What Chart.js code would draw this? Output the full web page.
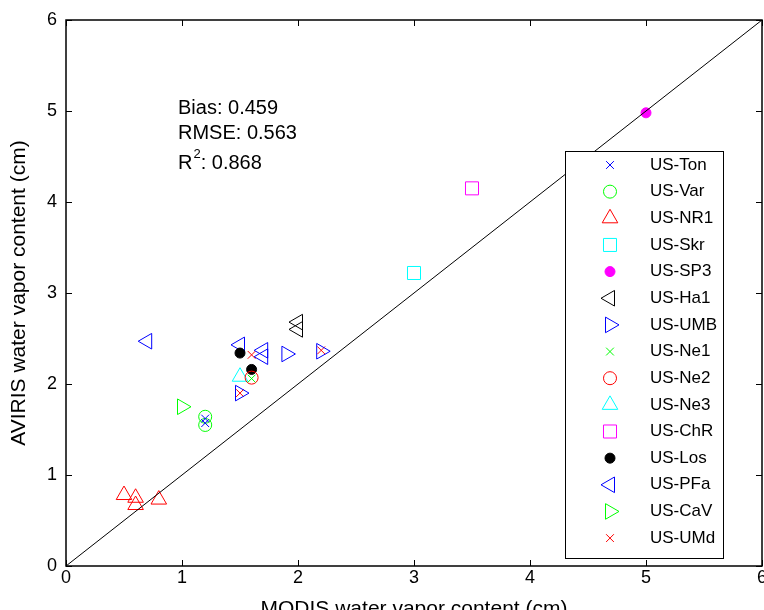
<!DOCTYPE html>
<html>
<head>
<meta charset="utf-8">
<script src="https://cdn.jsdelivr.net/npm/chart.js@4.4.0/dist/chart.umd.min.js"></script>
<style>
  html, body { margin: 0; padding: 0; background: #fff; }
  #wrap { width: 764px; height: 610px; }
</style>
</head>
<body>
<div id="wrap"><canvas id="vaporChart" width="764" height="610"></canvas></div>
<script>
// axis ticks (cm)
const xTicks = [0, 1, 2, 3, 4, 5, 6];
const yTicks = [0, 1, 2, 3, 4, 5, 6];

const siteNames = ['US-Ton', 'US-Var', 'US-NR1', 'US-Skr', 'US-SP3', 'US-Ha1', 'US-UMB', 'US-Ne1',
                   'US-Ne2', 'US-Ne3', 'US-ChR', 'US-Los', 'US-PFa', 'US-CaV', 'US-UMd'];

// [MODIS, AVIRIS] water vapor pairs
const usTon = [[1.2, 1.62], [1.2, 1.57]];
const usVar = [[1.2, 1.64], [1.2, 1.55]];
const usNR1 = [[0.5, 0.78], [0.6, 0.75], [0.6, 0.67], [0.8, 0.73]];
const usSkr = [[3.0, 3.22]];
const usSP3 = [[5.0, 4.98]];
const usHa1 = [[2.0, 2.68], [2.0, 2.60]];
const usUMB = [[1.9, 2.33], [2.2, 2.36], [1.5, 1.90]];
const usNe1 = [[1.6, 2.06]];
const usNe2 = [[1.6, 2.07]];
const usNe3 = [[1.5, 2.08]];
const usChR = [[3.5, 4.15]];
const usLos = [[1.5, 2.34], [1.6, 2.16]];
const usPFa = [[0.7, 2.47], [1.5, 2.43], [1.7, 2.37], [1.7, 2.30]];
const usCaV = [[1.0, 1.75]];
const usUMd = [[1.6, 2.32], [2.2, 2.37], [1.5, 1.90]];

const siteData = [usTon, usVar, usNR1, usSkr, usSP3, usHa1, usUMB, usNe1,
                  usNe2, usNe3, usChR, usLos, usPFa, usCaV, usUMd];

const oneToOne = [[0, 0], [6, 6]];

const bias = 0.459;
const rmse = 0.563;
const r2 = 0.868;

// marker look for each site (matlab style)
const markers = [
  { color: '#0000ff', style: 'crossRot', r: 5.5, rot: 0, filled: false },
  { color: '#00ff00', style: 'circle', r: 6.5, rot: 0, filled: false },
  { color: '#ff0000', style: 'triangle', r: 9, rot: 0, filled: false },
  { color: '#00ffff', style: 'rect', r: 9.2, rot: 0, filled: false },
  { color: '#ff00ff', style: 'circle', r: 5, rot: 0, filled: true },
  { color: '#000000', style: 'triangle', r: 9, rot: -90, filled: false },
  { color: '#0000ff', style: 'triangle', r: 9, rot: 90, filled: false },
  { color: '#00ff00', style: 'crossRot', r: 5.5, rot: 0, filled: false },
  { color: '#ff0000', style: 'circle', r: 6.5, rot: 0, filled: false },
  { color: '#00ffff', style: 'triangle', r: 9, rot: 0, filled: false },
  { color: '#ff00ff', style: 'rect', r: 9.2, rot: 0, filled: false },
  { color: '#000000', style: 'circle', r: 5, rot: 0, filled: true },
  { color: '#0000ff', style: 'triangle', r: 9, rot: -90, filled: false },
  { color: '#00ff00', style: 'triangle', r: 9, rot: 90, filled: false },
  { color: '#ff0000', style: 'crossRot', r: 5.5, rot: 0, filled: false }
];

const FONT = '"Liberation Sans", Arial, Helvetica, sans-serif';

const datasets = siteData.map((pts, i) => {
  const m = markers[i];
  return {
    type: 'scatter',
    label: siteNames[i],
    data: pts.map(p => ({ x: p[0], y: p[1] })),
    pointStyle: m.style,
    pointRadius: m.r,
    pointRotation: m.rot,
    pointBorderColor: m.color,
    pointBackgroundColor: m.filled ? m.color : 'rgba(0,0,0,0)',
    pointBorderWidth: 1,
    showLine: false
  };
});

datasets.unshift({
  type: 'line',
  label: '1:1',
  data: oneToOne.map(p => ({ x: p[0], y: p[1] })),
  borderColor: '#000',
  borderWidth: 1,
  pointRadius: 0,
  fill: false
});

// box, inward ticks, x tick labels, axis titles, stats text and the legend
const matlabAxes = {
  id: 'matlabAxes',
  afterDatasetsDraw(chart) {
    const ctx = chart.ctx;
    const a = chart.chartArea;
    const xs = chart.scales.x, ys = chart.scales.y;
    ctx.save();
    ctx.strokeStyle = '#000';
    ctx.lineWidth = 1;
    ctx.beginPath();
    xTicks.forEach(v => {
      const px = Math.round(xs.getPixelForValue(v)) + 0.5;
      ctx.moveTo(px, a.bottom); ctx.lineTo(px, a.bottom - 6);
      ctx.moveTo(px, a.top); ctx.lineTo(px, a.top + 6);
    });
    yTicks.forEach(v => {
      const py = Math.round(ys.getPixelForValue(v)) + 0.5;
      ctx.moveTo(a.left, py); ctx.lineTo(a.left + 6, py);
      ctx.moveTo(a.right, py); ctx.lineTo(a.right - 6, py);
    });
    ctx.stroke();
    ctx.lineWidth = 1.5;
    ctx.strokeRect(a.left, a.top, a.right - a.left, a.bottom - a.top);

    // x tick labels (the last one runs off the canvas like the original)
    ctx.fillStyle = '#000';
    ctx.font = '18px ' + FONT;
    ctx.textAlign = 'center';
    ctx.textBaseline = 'top';
    xTicks.forEach(v => ctx.fillText(String(v), xs.getPixelForValue(v), a.bottom + 3));

    // axis titles
    ctx.font = '21px ' + FONT;
    ctx.fillText('MODIS water vapor content (cm)', (a.left + a.right) / 2, 599);
    ctx.save();
    ctx.translate(19, (a.top + a.bottom) / 2);
    ctx.rotate(-Math.PI / 2);
    ctx.textBaseline = 'middle';
    ctx.fillText('AVIRIS water vapor content (cm)', 0, 0);
    ctx.restore();

    // stats
    ctx.textAlign = 'left';
    ctx.textBaseline = 'alphabetic';
    ctx.font = '20px ' + FONT;
    ctx.fillText('Bias: ' + bias.toFixed(3), 178, 114);
    ctx.fillText('RMSE: ' + rmse.toFixed(3), 178, 139);
    const rw = ctx.measureText('R').width;
    ctx.fillText('R', 178, 169);
    ctx.font = '13px ' + FONT;
    ctx.fillText('2', 178 + rw + 1, 158);
    const sw = ctx.measureText('2').width;
    ctx.font = '20px ' + FONT;
    ctx.fillText(': ' + r2.toFixed(3), 178 + rw + 1 + sw, 169);

    // legend
    const lx = 565.5, ly = 151.5, lw = 158, lh = 407;
    ctx.fillStyle = '#fff';
    ctx.fillRect(lx, ly, lw, lh);
    ctx.lineWidth = 1;
    ctx.strokeStyle = '#000';
    ctx.strokeRect(lx, ly, lw, lh);
    ctx.font = '17px ' + FONT;
    ctx.textBaseline = 'middle';
    siteNames.forEach((name, i) => {
      const m = markers[i];
      const cy = 165 + i * 26.65;
      ctx.strokeStyle = m.color;
      ctx.fillStyle = m.filled ? m.color : 'rgba(0,0,0,0)';
      ctx.lineWidth = 1;
      Chart.helpers.drawPoint(ctx, { pointStyle: m.style, radius: m.r, rotation: m.rot, borderWidth: 1 }, 610, cy);
      ctx.fillStyle = '#000';
      ctx.fillText(name, 650, cy);
    });
    ctx.restore();
  }
};

const ctx = document.getElementById('vaporChart').getContext('2d');
new Chart(ctx, {
  data: { datasets: datasets },
  options: {
    responsive: false,
    animation: false,
    events: [],
    layout: { autoPadding: false, padding: { top: 20, right: 2, left: 0, bottom: 0 } },
    plugins: { legend: { display: false }, tooltip: { enabled: false } },
    scales: {
      x: {
        type: 'linear',
        min: 0, max: 6,
        afterBuildTicks: s => { s.ticks = xTicks.map(v => ({ value: v })); },
        afterFit: s => { s.height = 44; s.paddingLeft = 0; s.paddingRight = 0; },
        grid: { display: false, drawTicks: false },
        border: { display: false },
        ticks: { display: false }
      },
      y: {
        type: 'linear',
        min: 0, max: 6,
        afterBuildTicks: s => { s.ticks = yTicks.map(v => ({ value: v })); },
        afterFit: s => { s.width = 66; s.paddingTop = 0; s.paddingBottom = 0; },
        grid: { display: false, drawTicks: false },
        border: { display: false },
        ticks: { color: '#000', padding: 9, font: { family: FONT, size: 18 } }
      }
    }
  },
  plugins: [matlabAxes]
});
</script>
</body>
</html>
